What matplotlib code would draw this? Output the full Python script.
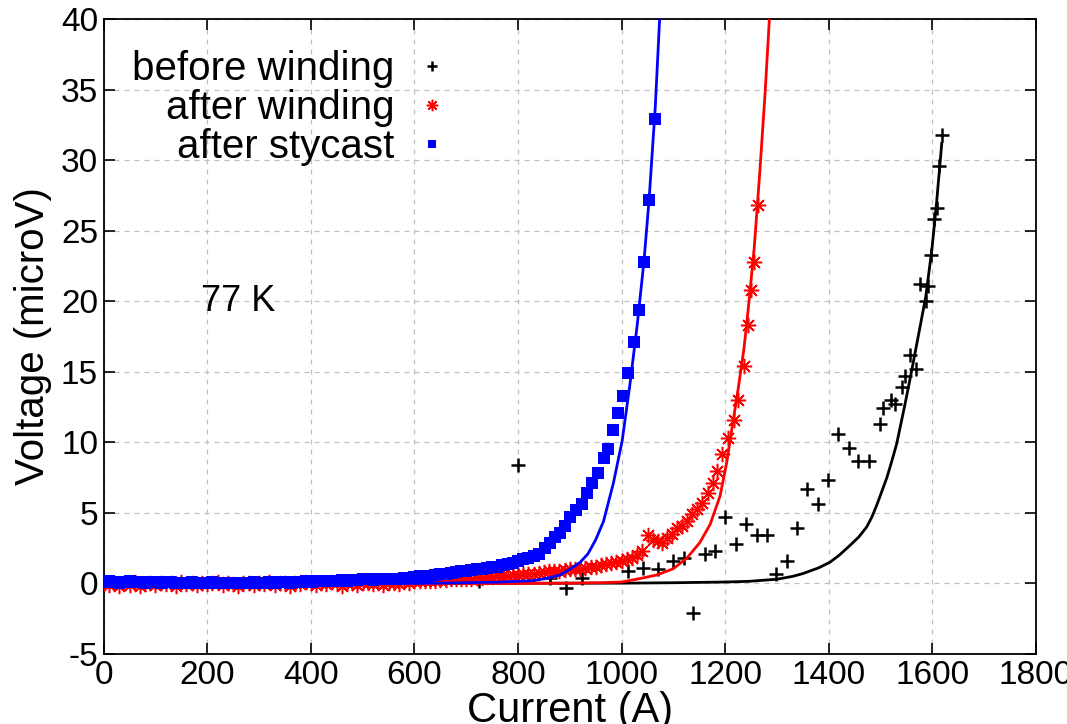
import numpy as np
import matplotlib
matplotlib.use("Agg")
import matplotlib.pyplot as plt

# ----------------------------------------------------------------------------------------------------------------------
# data
# ----------------------------------------------------------------------------------------------------------------------

# before winding: measured points
before_I = [725, 770, 799, 862, 892, 924, 1013, 1042, 1070, 1099, 1121, 1137, 1160, 1180, 1200, 1221, 1240,
            1261, 1280, 1298, 1319, 1338, 1358, 1379, 1398, 1418, 1439, 1456, 1477, 1499, 1505, 1520, 1528,
            1541, 1547, 1556, 1568, 1576, 1587, 1591, 1597, 1603, 1608, 1612, 1618]
before_V = [0.2, 0.5, 8.4, 0.4, -0.35, 0.4, 0.9, 1.1, 1.0, 1.6, 1.8, -2.1, 2.1, 2.3, 4.7, 2.8, 4.2,
            3.4, 3.4, 0.7, 1.6, 3.9, 6.7, 5.6, 7.3, 10.6, 9.6, 8.7, 8.7, 11.3, 12.4, 13.0, 12.7,
            13.9, 14.7, 16.2, 15.2, 21.2, 20.0, 21.1, 23.3, 25.8, 26.6, 29.6, 31.8]

# before winding: fit curve
before_fit_I = [0, 1000, 1100, 1200, 1246, 1300, 1330, 1350, 1380, 1402, 1420, 1441, 1458, 1473, 1483,
                1493, 1502, 1512, 1521, 1531, 1539, 1547, 1560, 1573, 1587, 1599, 1608, 1618]
before_fit_V = [0.0, 0.02, 0.05, 0.1, 0.15, 0.3, 0.5, 0.7, 1.1, 1.5, 2.0, 2.7, 3.3, 4.0, 4.7,
                5.6, 6.5, 7.5, 8.6, 9.9, 11.3, 12.7, 15.1, 17.6, 20.3, 23.7, 27.0, 31.2]

# after winding: measured points
after_I = [0, 10, 20, 30, 40, 50, 60, 70, 80, 90,
           100, 110, 120, 130, 140, 150, 160, 170, 180, 190,
           200, 210, 220, 230, 240, 250, 260, 270, 280, 290,
           300, 310, 320, 330, 340, 350, 360, 370, 380, 390,
           400, 410, 420, 430, 440, 450, 460, 470, 480, 490,
           500, 510, 520, 530, 540, 550, 560, 570, 580, 590,
           600, 610, 620, 630, 640, 650, 660, 670, 680, 690,
           700, 710, 720, 730, 740, 750, 760, 770, 780, 790,
           800, 810, 820, 830, 840, 850, 860, 870, 880, 890,
           900, 910, 920, 930, 940, 950, 960, 970, 980, 990,
           1000, 1010, 1020, 1030, 1040, 1051, 1060, 1070, 1078, 1088,
           1097, 1107, 1117, 1126, 1136, 1145, 1155, 1167, 1176, 1184,
           1194, 1206, 1216, 1225, 1236, 1244, 1250, 1256, 1263]
after_V = [0.0, -0.1, 0.05, -0.15, 0.0, -0.1, 0.1, -0.15, -0.05, 0.0,
           -0.1, 0.05, -0.05, 0.0, -0.15, 0.1, -0.05, 0.0, -0.1, 0.05,
           -0.05, 0.0, 0.1, -0.1, 0.0, -0.05, -0.15, 0.05, 0.0, -0.1,
           0.0, -0.05, 0.1, -0.1, 0.0, 0.05, -0.15, 0.0, -0.05, 0.1,
           0.0, -0.1, 0.05, -0.05, 0.1, 0.0, -0.15, 0.05, 0.0, -0.1,
           0.05, 0.0, -0.05, 0.1, -0.1, 0.05, 0.0, -0.05, 0.15, 0.0,
           0.15, 0.15, 0.2, 0.2, 0.2, 0.25, 0.25, 0.3, 0.3, 0.3,
           0.35, 0.35, 0.4, 0.4, 0.45, 0.45, 0.5, 0.5, 0.55, 0.6,
           0.6, 0.65, 0.7, 0.7, 0.75, 0.8, 0.85, 0.9, 0.9, 0.95,
           1.0, 1.0, 1.05, 1.1, 1.15, 1.2, 1.3, 1.35, 1.45, 1.5,
           1.6, 1.7, 1.8, 2.0, 2.3, 3.4, 3.1, 3.0, 2.9, 3.2,
           3.5, 3.9, 4.1, 4.4, 4.9, 5.3, 5.7, 6.4, 7.1, 8.0,
           9.2, 10.3, 11.6, 13.0, 15.4, 18.3, 20.8, 22.8, 26.8]

# after winding: fit curve
after_fit_I = [0, 800, 900, 958, 1000, 1036, 1068, 1100, 1126, 1151, 1171, 1190, 1203, 1213, 1225,
               1236, 1244, 1256, 1267, 1277, 1286]
after_fit_V = [0.0, 0.0, 0.02, 0.05, 0.1, 0.35, 0.6, 1.05, 1.8, 2.9, 4.2, 6.2, 8.6, 11.0, 13.8,
               16.6, 19.3, 23.8, 29.3, 34.8, 40.5]

# after stycast: measured points
stycast_I = [0, 10, 20, 30, 40, 50, 60, 70, 80, 90,
             100, 110, 120, 130, 140, 150, 160, 170, 180, 190,
             200, 210, 220, 230, 240, 250, 260, 270, 280, 290,
             300, 310, 320, 330, 340, 350, 360, 370, 380, 390,
             400, 410, 420, 430, 440, 450, 460, 470, 480, 490,
             500, 510, 520, 530, 540, 550, 560, 570, 580, 590,
             600, 610, 620, 630, 640, 650, 660, 670, 680, 690,
             700, 710, 720, 730, 740, 750, 760, 770, 780, 790,
             800, 810, 820, 830, 840, 852, 862, 872, 881, 891,
             901, 912, 924, 933, 943, 954, 965, 973, 983, 993,
             1003, 1013, 1024, 1034, 1043, 1053, 1065]
stycast_V = [0.1, 0.15, 0.1, 0.05, 0.1, 0.15, 0.1, 0.1, 0.05, 0.1,
             0.1, 0.05, 0.1, 0.1, 0.05, 0.0, 0.05, 0.1, 0.05, 0.05,
             0.05, 0.1, 0.05, 0.0, 0.05, 0.05, 0.0, 0.05, 0.05, 0.1,
             0.05, 0.05, 0.1, 0.05, 0.1, 0.1, 0.05, 0.1, 0.1, 0.15,
             0.1, 0.15, 0.15, 0.2, 0.15, 0.2, 0.25, 0.2, 0.25, 0.25,
             0.3, 0.3, 0.25, 0.3, 0.35, 0.3, 0.35, 0.35, 0.4, 0.4,
             0.45, 0.5, 0.5, 0.55, 0.6, 0.65, 0.7, 0.75, 0.8, 0.85,
             0.9, 0.95, 1.0, 1.05, 1.1, 1.15, 1.2, 1.3, 1.35, 1.45,
             1.6, 1.7, 1.8, 1.95, 2.1, 2.5, 2.9, 3.3, 3.6, 4.1,
             4.7, 5.2, 5.6, 6.4, 7.1, 7.8, 8.9, 9.5, 10.9, 12.1,
             13.3, 14.9, 17.1, 19.4, 22.8, 27.2, 32.9]

# after stycast: fit curve
stycast_fit_I = [0, 600, 700, 766, 830, 860, 881, 900, 920, 935, 950, 965, 984, 1001, 1016, 1030,
                 1043, 1053, 1065, 1074]
stycast_fit_V = [0.0, 0.0, 0.05, 0.1, 0.2, 0.4, 0.6, 1.0, 1.5, 2.1, 3.1, 4.4, 7.1, 10.1, 14.1, 18.3,
                 22.8, 27.2, 33.8, 40.5]

x_ticks = [0, 200, 400, 600, 800, 1000, 1200, 1400, 1600, 1800]
y_ticks = [-5, 0, 5, 10, 15, 20, 25, 30, 35, 40]

# ----------------------------------------------------------------------------------------------------------------------
# plot
# ----------------------------------------------------------------------------------------------------------------------

plt.rcParams['font.family'] = ['Liberation Sans', 'DejaVu Sans']
plt.rcParams['axes.unicode_minus'] = False

fig = plt.figure(figsize=(10.67, 7.24), dpi=100)
ax = fig.add_axes([0.0971, 0.0967, 0.8739, 0.877])

ax.plot(before_I, before_V, '+', color='black', ms=10, mew=1.8, label='before winding', zorder=3)
ax.plot(before_fit_I, before_fit_V, '-', color='black', lw=2, zorder=3)
ax.plot(after_I, after_V, linestyle='none', marker=(8, 2, 0), color='red', ms=11, mew=1.1,
        label='after winding', zorder=4)
ax.plot(after_fit_I, after_fit_V, '-', color='red', lw=2, zorder=4)
ax.plot(stycast_I, stycast_V, 's', color='blue', ms=8, mew=0, label='after stycast', zorder=5)
ax.plot(stycast_fit_I, stycast_fit_V, '-', color='blue', lw=2, zorder=5)

ax.set_xlim(0, 1800)
ax.set_ylim(-5, 40)
ax.set_xticks(x_ticks)
ax.set_yticks(y_ticks)
ax.tick_params(direction='in', top=True, right=True, length=8, width=1.2, labelsize=24, pad=4)
ax.grid(True, linestyle=(0, (4, 4)), color='#c0c0c0', lw=0.9)
ax.set_axisbelow(True)
for sp in ax.spines.values():
    sp.set_linewidth(1.3)

ax.set_xlabel('Current (A)', fontsize=30, labelpad=0)
ax.set_ylabel('Voltage (microV)', fontsize=29, labelpad=6)

ax.text(260, 20, '77 K', fontsize=26, ha='center', va='center')

leg = ax.legend(loc='upper left', markerfirst=False, frameon=False, fontsize=29,
                bbox_to_anchor=(0.0, 0.995), handlelength=0.9, handletextpad=0.5,
                labelspacing=0.02, borderaxespad=0.3, markerscale=0.75)

fig.savefig('out.png', dpi=100)
